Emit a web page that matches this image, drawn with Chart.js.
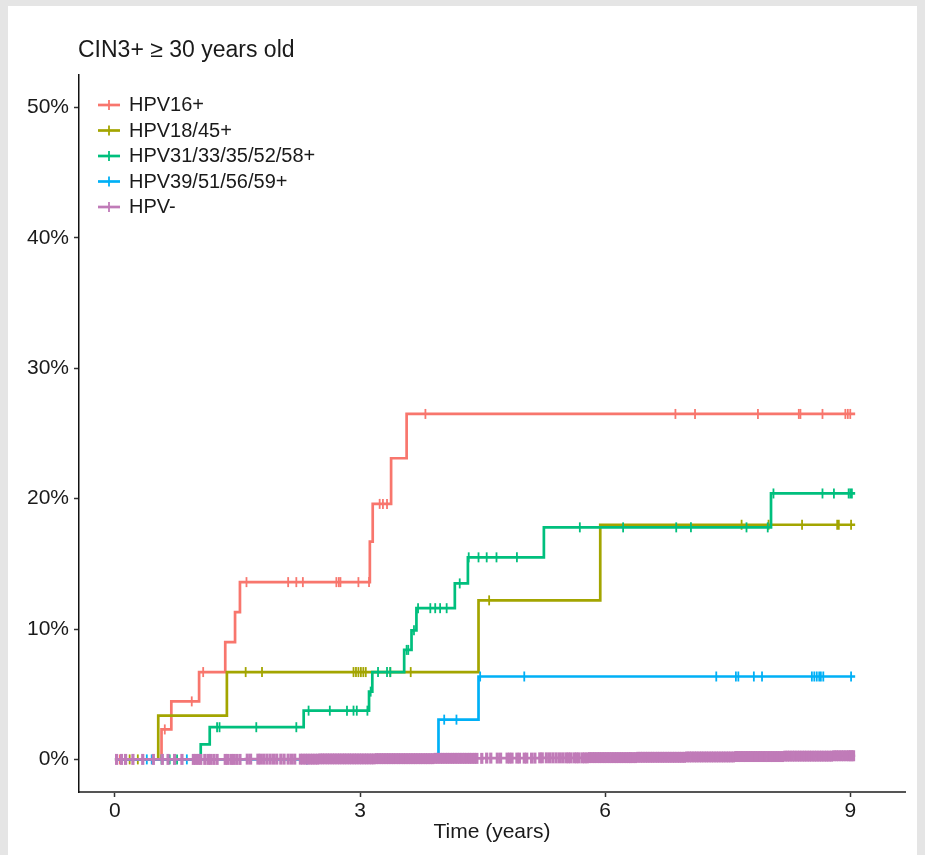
<!DOCTYPE html>
<html><head><meta charset="utf-8">
<script src="https://cdn.jsdelivr.net/npm/chart.js@4/dist/chart.umd.min.js"></script>
<style>
html,body{margin:0;padding:0;background:#e5e5e5;width:925px;height:855px;overflow:hidden}
#panel{position:absolute;left:8px;top:6px;width:909px;height:849px;background:#fff}
#c{position:absolute;left:0;top:0}
</style></head><body>
<div id="panel"></div>
<canvas id="c" width="925" height="855"></canvas>
<script>
const chartTitle = 'CIN3+ \u2265 30 years old';
const xAxisTitle = 'Time (years)';
const xTicks = [0, 3, 6, 9];
const yTicks = [0, 10, 20, 30, 40, 50];

const seriesNames = ['HPV16+', 'HPV18/45+', 'HPV31/33/35/52/58+', 'HPV39/51/56/59+', 'HPV-'];
const seriesColors = ['#F8766D', '#A3A500', '#00BF7D', '#00B0F6', '#C07BB8'];

// HPV16+
const hpv16Times  = [0, 0.57, 0.69, 1.03, 1.35, 1.47, 1.53, 3.12, 3.155, 3.38, 3.57, 9.06];
const hpv16Values = [0, 2.3, 4.45, 6.7, 9.0, 11.3, 13.6, 16.7, 19.6, 23.1, 26.5, 26.5];
const hpv16Censor = [0.06, 0.61, 0.94, 1.08, 1.61, 2.12, 2.22, 2.30, 2.71, 2.74, 2.76, 2.98, 3.11, 3.24, 3.28, 3.33, 3.80, 6.86, 7.10, 7.87, 8.37, 8.39, 8.66, 8.94, 8.97, 9.0];

// HPV18/45+
const hpv18Times  = [0, 0.53, 1.37, 4.45, 5.94, 9.06];
const hpv18Values = [0, 3.36, 6.7, 12.2, 18.0, 18.0];
const hpv18Censor = [0.18, 0.28, 1.60, 1.80, 2.92, 2.95, 2.98, 3.01, 3.04, 3.07, 3.37, 3.62, 4.58, 7.67, 8.0, 8.41, 8.84, 8.86, 9.01];

// HPV31/33/35/52/58+
const hpv31Times  = [0, 1.05, 1.16, 2.31, 3.11, 3.15, 3.54, 3.63, 3.69, 4.16, 4.32, 5.25, 8.03, 9.06];
const hpv31Values = [0, 1.15, 2.47, 3.74, 5.2, 6.7, 8.4, 9.9, 11.6, 13.5, 15.5, 17.8, 20.4, 20.4];
const hpv31Censor = [0.57, 0.67, 0.76, 1.25, 1.28, 1.73, 2.22, 2.37, 2.63, 2.84, 2.92, 2.96, 3.09, 3.13, 3.22, 3.33, 3.37, 3.57, 3.59, 3.66, 3.71, 3.86, 3.92, 3.98, 4.06, 4.22, 4.33, 4.45, 4.55, 4.67, 4.92, 5.69, 6.22, 6.87, 7.05, 7.73, 7.99, 8.06, 8.66, 8.80, 8.98, 9.0, 9.02];

// HPV39/51/56/59+
const hpv39Times  = [0, 3.96, 4.45, 9.06];
const hpv39Values = [0, 3.05, 6.36, 6.36];
const hpv39Censor = [0.39, 0.45, 0.88, 2.35, 4.03, 4.18, 4.47, 5.01, 7.36, 7.60, 7.63, 7.82, 7.92, 8.53, 8.56, 8.59, 8.62, 8.64, 8.67, 9.01];

// HPV-
const hpvNegTimes  = [0, 1.6, 2.5, 3.2, 3.9, 4.5, 5.2, 5.8, 6.4, 7.0, 7.6, 8.2, 8.8, 9.06];
const hpvNegValues = [0, 0.02, 0.04, 0.06, 0.08, 0.10, 0.12, 0.14, 0.16, 0.19, 0.22, 0.25, 0.28, 0.28];
const hpvNegCensor = [0.02, 0.08, 0.13, 0.22, 0.34, 0.47, 0.58, 0.65, 0.73, 0.82, 0.96, 0.99, 1.02, 1.05, 1.10, 1.14, 1.17, 1.21, 1.25, 1.35, 1.38, 1.42, 1.45, 1.49, 1.53, 1.62, 1.66, 1.75, 1.78, 1.82, 1.86, 1.90, 1.94, 1.98, 2.03, 2.07, 2.12, 2.16, 2.20, 2.27, 2.30, 2.33, 2.36, 2.39, 2.42, 2.45, 2.48, 2.51, 2.54, 2.57, 2.60, 2.63, 2.66, 2.69, 2.72, 2.75, 2.78, 2.81, 2.84, 2.87, 2.90, 2.93, 2.96, 2.99, 3.02, 3.05, 3.08, 3.11, 3.14, 3.17, 3.20, 3.23, 3.26, 3.29, 3.32, 3.35, 3.38, 3.41, 3.44, 3.47, 3.50, 3.53, 3.56, 3.59, 3.62, 3.65, 3.68, 3.71, 3.74, 3.77, 3.80, 3.83, 3.86, 3.89, 3.92, 3.95, 3.98, 4.01, 4.04, 4.07, 4.10, 4.13, 4.16, 4.19, 4.22, 4.25, 4.28, 4.31, 4.34, 4.37, 4.40, 4.43, 4.49, 4.55, 4.60, 4.68, 4.72, 4.80, 4.83, 4.86, 4.92, 4.95, 5.01, 5.04, 5.10, 5.14, 5.20, 5.23, 5.28, 5.32, 5.36, 5.40, 5.44, 5.48, 5.52, 5.55, 5.58, 5.62, 5.65, 5.68, 5.72, 5.75, 5.78, 5.81, 5.84, 5.87, 5.90, 5.93, 5.96, 5.99, 6.02, 6.05, 6.08, 6.11, 6.14, 6.17, 6.20, 6.23, 6.26, 6.29, 6.31, 6.34, 6.37, 6.40, 6.43, 6.46, 6.49, 6.52, 6.55, 6.58, 6.61, 6.64, 6.67, 6.70, 6.73, 6.76, 6.79, 6.82, 6.85, 6.88, 6.91, 6.94, 6.97, 7.00, 7.03, 7.06, 7.09, 7.12, 7.15, 7.18, 7.21, 7.24, 7.27, 7.30, 7.33, 7.36, 7.39, 7.42, 7.45, 7.48, 7.51, 7.54, 7.57, 7.60, 7.63, 7.66, 7.69, 7.72, 7.75, 7.78, 7.81, 7.84, 7.87, 7.90, 7.93, 7.96, 7.99, 8.02, 8.05, 8.08, 8.11, 8.14, 8.17, 8.20, 8.23, 8.26, 8.29, 8.32, 8.35, 8.38, 8.41, 8.44, 8.47, 8.50, 8.53, 8.56, 8.59, 8.62, 8.65, 8.68, 8.71, 8.74, 8.77, 8.80, 8.83, 8.86, 8.89, 8.92, 8.95, 8.98, 9.00, 9.02, 9.04];

const series = [
  {name: seriesNames[0], color: seriesColors[0], times: hpv16Times, values: hpv16Values, censor: hpv16Censor},
  {name: seriesNames[1], color: seriesColors[1], times: hpv18Times, values: hpv18Values, censor: hpv18Censor},
  {name: seriesNames[2], color: seriesColors[2], times: hpv31Times, values: hpv31Values, censor: hpv31Censor},
  {name: seriesNames[3], color: seriesColors[3], times: hpv39Times, values: hpv39Values, censor: hpv39Censor},
  {name: seriesNames[4], color: seriesColors[4], times: hpvNegTimes, values: hpvNegValues, censor: hpvNegCensor}
];

function stepValue(times, values, t) {
  let v = values[0];
  for (let i = 0; i < times.length; i++) { if (times[i] <= t) v = values[i]; else break; }
  return v;
}

const FONT = '"Liberation Sans", Arial, Helvetica, sans-serif';
const TEXT = '#1a1a1a';

const datasets = [];
series.forEach((s, k) => {
  const dense = k === 4;
  datasets.push({
    type: 'line', label: s.name,
    data: s.times.map((t, i) => ({x: t, y: s.values[i]})),
    borderColor: s.color, borderWidth: 2.7, stepped: true,
    pointRadius: 0, fill: false, order: 2 * (5 - k)
  });
  datasets.push({
    type: 'line', label: s.name + ' censored',
    data: s.censor.map(t => ({x: t, y: stepValue(s.times, s.values, t)})),
    showLine: false, pointStyle: 'line', rotation: 90,
    pointRadius: dense ? 5.5 : 5,
    pointBorderColor: s.color, borderColor: s.color,
    pointBorderWidth: dense ? 3.2 : 1.8,
    order: 2 * (5 - k) - 1
  });
});

const deco = {
  id: 'deco',
  afterDraw(chart) {
    const ctx = chart.ctx;
    ctx.save();
    ctx.fillStyle = TEXT;
    ctx.font = '23px ' + FONT;
    ctx.textBaseline = 'alphabetic';
    ctx.textAlign = 'left';
    ctx.fillText(chartTitle, 78, 57);
    series.forEach((s, i) => {
      const y = 105 + i * 25.5;
      ctx.strokeStyle = s.color;
      ctx.lineWidth = 2.7;
      ctx.beginPath(); ctx.moveTo(98, y); ctx.lineTo(120, y); ctx.stroke();
      ctx.lineWidth = 1.8;
      ctx.beginPath(); ctx.moveTo(109, y - 5); ctx.lineTo(109, y + 5); ctx.stroke();
      ctx.fillStyle = TEXT;
      ctx.font = '20px ' + FONT;
      ctx.textBaseline = 'middle';
      ctx.fillText(s.name, 129, y + 0.5);
    });
    ctx.restore();
  }
};

new Chart(document.getElementById('c'), {
  type: 'line',
  data: {datasets},
  options: {
    responsive: false, animation: false, devicePixelRatio: 1,
    layout: {padding: {top: 75, right: 20, left: 0, bottom: 0}},
    plugins: {legend: {display: false}, tooltip: {enabled: false}, title: {display: false}},
    scales: {
      x: {
        type: 'linear', min: -0.44, max: 9.67,
        afterBuildTicks: s => { s.ticks = xTicks.map(v => ({value: v})); },
        afterFit: s => { s.height = 63; },
        ticks: {font: {family: FONT, size: 21}, color: TEXT, padding: 2, autoSkip: false, maxRotation: 0},
        grid: {drawOnChartArea: false, drawTicks: true, tickLength: 5, tickColor: '#333', tickWidth: 1.5},
        border: {display: true, color: '#555', width: 2},
        title: {display: true, text: xAxisTitle, font: {family: FONT, size: 21}, color: TEXT, padding: {top: 0, bottom: 10}}
      },
      y: {
        type: 'linear', min: -2.5, max: 52.5,
        afterBuildTicks: s => { s.ticks = yTicks.map(v => ({value: v})); },
        afterFit: s => { s.width = 79; },
        ticks: {font: {family: FONT, size: 21}, color: TEXT, padding: 5, callback: v => v + '%'},
        grid: {drawOnChartArea: false, drawTicks: true, tickLength: 5, tickColor: '#333', tickWidth: 1.5},
        border: {display: true, color: '#111', width: 1.5}
      }
    }
  },
  plugins: [deco]
});
</script>
</body></html>
